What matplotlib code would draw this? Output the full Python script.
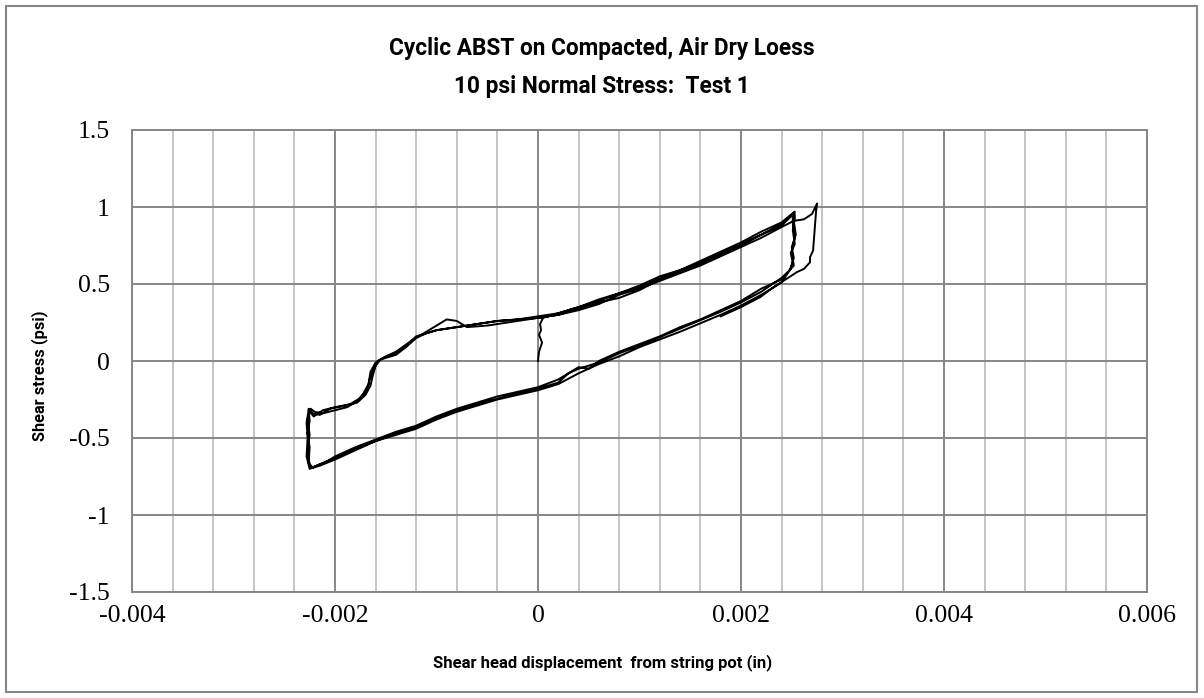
import numpy as np
import matplotlib.pyplot as plt
from matplotlib.patches import Rectangle
from matplotlib.ticker import MultipleLocator

# ====================
# Data: displacement (in) / shear stress (psi)
# ====================
# initial loading from rest
disp_load0 = [0.0, 0.00001, 0.00004, 0.00001, 0.00003, 0.00002, 0.00005, 0.0002, 0.0004,
              0.0006, 0.0008, 0.0010, 0.0012, 0.0014, 0.0016, 0.0018, 0.0020, 0.0022,
              0.0024, 0.00252]
stress_load0 = [0.0, 0.06, 0.12, 0.17, 0.20, 0.24, 0.28, 0.31, 0.35,
                0.39, 0.44, 0.48, 0.54, 0.59, 0.64, 0.70, 0.76, 0.82,
                0.89, 0.965]

# cycle 1
disp_cyc1 = [0.00253, 0.00251, 0.00253, 0.00249, 0.00251, 0.00248,
             0.0024, 0.0022, 0.0020, 0.0018, 0.0016, 0.0014, 0.0012, 0.0010, 0.0008,
             0.0006, 0.0004, 0.0003, 0.0002, 0.0, -0.0002, -0.0004, -0.0006, -0.0008,
             -0.0010, -0.0012, -0.0014, -0.0016, -0.0018, -0.0020, -0.00215, -0.00223,
             -0.00226, -0.00225, -0.00227, -0.00225, -0.00226,
             -0.00222, -0.00215, -0.00205, -0.0019, -0.00178, -0.0017, -0.00165,
             -0.00163, -0.0016, -0.00155, -0.0014, -0.0013, -0.0012, -0.0011, -0.0010,
             -0.0009, -0.0008, -0.0006, -0.0004, -0.0002, 0.0, 0.0002, 0.0004, 0.0006,
             0.0008, 0.0010, 0.0012, 0.0014, 0.0016, 0.0018, 0.0020, 0.0022, 0.0024,
             0.00253]
stress_cyc1 = [0.93, 0.85, 0.76, 0.70, 0.64, 0.59,
               0.54, 0.45, 0.38, 0.32, 0.265, 0.21, 0.155, 0.10, 0.05,
               -0.01, -0.05, -0.08, -0.14, -0.18, -0.21, -0.245, -0.28, -0.32,
               -0.37, -0.43, -0.47, -0.52, -0.57, -0.63, -0.67, -0.695,
               -0.66, -0.56, -0.47, -0.39, -0.31,
               -0.34, -0.35, -0.31, -0.29, -0.27, -0.22, -0.16,
               -0.10, -0.03, 0.01, 0.04, 0.09, 0.15, 0.18, 0.20,
               0.21, 0.22, 0.24, 0.26, 0.27, 0.29, 0.31, 0.35, 0.40,
               0.44, 0.49, 0.55, 0.59, 0.65, 0.71, 0.77, 0.84, 0.90,
               0.97]

# cycle 2
disp_cyc2 = [0.00252, 0.00254, 0.00250, 0.00252, 0.00249,
             0.0024, 0.0022, 0.0020, 0.0018, 0.0016, 0.0014, 0.0012, 0.0010, 0.0008,
             0.0006, 0.0004, 0.0002, 0.0, -0.0002, -0.0004, -0.0006, -0.0008, -0.0010,
             -0.0012, -0.0014, -0.0016, -0.0018, -0.0020, -0.00215, -0.00225,
             -0.00228, -0.00227, -0.00228, -0.00226,
             -0.00221, -0.00212, -0.0020, -0.00185, -0.00175, -0.00168, -0.00166,
             -0.00162, -0.00158, -0.0015, -0.0014, -0.00125, -0.0011, -0.0010, -0.0009,
             -0.0008, -0.0007, -0.0005, -0.0003, 0.0, 0.0002, 0.0004, 0.0006, 0.0008,
             0.0010, 0.0012, 0.0014, 0.0016, 0.0018, 0.0020, 0.0022, 0.0024, 0.00251]
stress_cyc2 = [0.91, 0.82, 0.74, 0.67, 0.60,
               0.51, 0.43, 0.36, 0.30, 0.245, 0.19, 0.14, 0.09, 0.03,
               -0.02, -0.08, -0.15, -0.19, -0.22, -0.25, -0.29, -0.33, -0.38,
               -0.44, -0.48, -0.52, -0.58, -0.64, -0.68, -0.70,
               -0.62, -0.50, -0.40, -0.32,
               -0.36, -0.32, -0.30, -0.28, -0.24, -0.19, -0.12,
               -0.06, 0.0, 0.03, 0.06, 0.13, 0.19, 0.23, 0.27,
               0.26, 0.22, 0.23, 0.25, 0.28, 0.30, 0.34, 0.38, 0.41,
               0.46, 0.53, 0.58, 0.63, 0.69, 0.75, 0.82, 0.88, 0.95]

# cycle 3 (last reload goes a bit further, then unloads)
disp_cyc3 = [0.00251, 0.00253, 0.00250, 0.00252,
             0.0024, 0.0022, 0.0020, 0.0018, 0.0016, 0.0014, 0.0012, 0.0010, 0.0008,
             0.0006, 0.0005, 0.0004, 0.0002, 0.0, -0.0002, -0.0004, -0.0006, -0.0008,
             -0.0010, -0.0012, -0.0014, -0.0016, -0.0018, -0.0020, -0.0021, -0.00222,
             -0.00225, -0.00227, -0.00225, -0.00227, -0.00224,
             -0.00220, -0.00212, -0.00200, -0.00188, -0.00178, -0.00172, -0.00167,
             -0.00165, -0.00160, -0.00152, -0.0014, -0.0013, -0.0012, -0.0010, -0.0008,
             -0.0006, -0.0004, -0.0002, 0.0, 0.0002, 0.0004, 0.0006, 0.0008, 0.0010,
             0.0012, 0.0014, 0.0016, 0.0018, 0.0020, 0.0022, 0.0024, 0.00252, 0.00262,
             0.0027, 0.00275,
             0.00274, 0.00273, 0.00272, 0.00271, 0.00268, 0.00268, 0.00262, 0.00255,
             0.00245, 0.00232, 0.00219, 0.0020, 0.0018]
stress_cyc3 = [0.90, 0.80, 0.71, 0.62,
               0.53, 0.47, 0.39, 0.33, 0.27, 0.22, 0.16, 0.11, 0.06,
               0.00, -0.05, -0.04, -0.12, -0.17, -0.20, -0.23, -0.27, -0.31,
               -0.36, -0.42, -0.46, -0.51, -0.56, -0.62, -0.66, -0.69,
               -0.67, -0.58, -0.48, -0.38, -0.31,
               -0.33, -0.34, -0.32, -0.30, -0.26, -0.21, -0.15,
               -0.07, -0.01, 0.02, 0.05, 0.10, 0.16, 0.20, 0.22,
               0.24, 0.26, 0.27, 0.28, 0.30, 0.33, 0.37, 0.43, 0.47,
               0.52, 0.57, 0.62, 0.68, 0.74, 0.80, 0.87, 0.91, 0.92,
               0.955, 1.023,
               0.976, 0.89, 0.803, 0.717, 0.674, 0.641, 0.598, 0.577,
               0.534, 0.479, 0.415, 0.35, 0.29]

disp = np.concatenate([disp_load0, disp_cyc1, disp_cyc2, disp_cyc3])
stress = np.concatenate([stress_load0, stress_cyc1, stress_cyc2, stress_cyc3])

x_ticks = [-0.004, -0.002, 0, 0.002, 0.004, 0.006]
x_ticklabels = ['-0.004', '-0.002', '0', '0.002', '0.004', '0.006']
y_ticks = [-1.5, -1, -0.5, 0, 0.5, 1, 1.5]
y_ticklabels = ['-1.5', '-1', '-0.5', '0', '0.5', '1', '1.5']

title_line1 = "Cyclic ABST on Compacted, Air Dry Loess"
title_line2 = "10 psi Normal Stress:  Test 1"
xlabel = "Shear head displacement  from string pot (in)"
ylabel = "Shear stress (psi)"

# ====================
# Figure (Excel-like look)
# ====================
W, H = 1204, 698
fig = plt.figure(figsize=(W / 100, H / 100), dpi=100)
ax = fig.add_axes([132 / W, 1 - 592 / H, (1147 - 132) / W, (592 - 130) / H])

major_c = '#868686'
minor_c = '#c0c0c0'

ax.set_xlim(-0.004, 0.006)
ax.set_ylim(-1.5, 1.5)
ax.set_xticks(x_ticks)
ax.set_xticklabels(x_ticklabels)
ax.xaxis.set_minor_locator(MultipleLocator(0.0004))
ax.set_yticks(y_ticks)
ax.set_yticklabels(y_ticklabels)
ax.grid(which='minor', axis='x', color=minor_c, lw=1.3)
ax.grid(which='major', axis='x', color=major_c, lw=1.4)
ax.grid(which='major', axis='y', color=major_c, lw=1.4)
ax.set_axisbelow(True)
for s in ax.spines.values():
    s.set_color(major_c)
    s.set_linewidth(1.4)

ax.tick_params(which='both', length=0)
ax.tick_params(axis='y', pad=16)
ax.tick_params(axis='x', pad=9)
for lab in ax.get_xticklabels() + ax.get_yticklabels():
    lab.set_fontfamily(['Liberation Serif', 'DejaVu Serif'])
    lab.set_fontsize(18.5)

ax.plot(disp, stress, color='black', lw=1.4)

bold_sans = ['Roboto', 'DejaVu Sans']
fig.text(602 / W, 1 - 48 / H, title_line1, ha='center', va='center',
         fontsize=16.3, fontweight='bold', family=bold_sans)
fig.text(602 / W, 1 - 87 / H, title_line2, ha='center', va='center',
         fontsize=16.3, fontweight='bold', family=bold_sans)
fig.text(603 / W, 1 - 663 / H, xlabel, ha='center', va='center',
         fontsize=12, fontweight='bold', family=bold_sans)
fig.text(40 / W, 1 - 376 / H, ylabel, ha='center', va='center', rotation=90,
         fontsize=11.8, fontweight='bold', family=bold_sans)

# outer chart border
fig.patches.append(Rectangle((6 / W, 6 / H), (W - 13) / W, (H - 12) / H,
                             transform=fig.transFigure, fill=False,
                             edgecolor='#878787', lw=1.5))

fig.savefig('out.png', dpi=100, facecolor='white')
